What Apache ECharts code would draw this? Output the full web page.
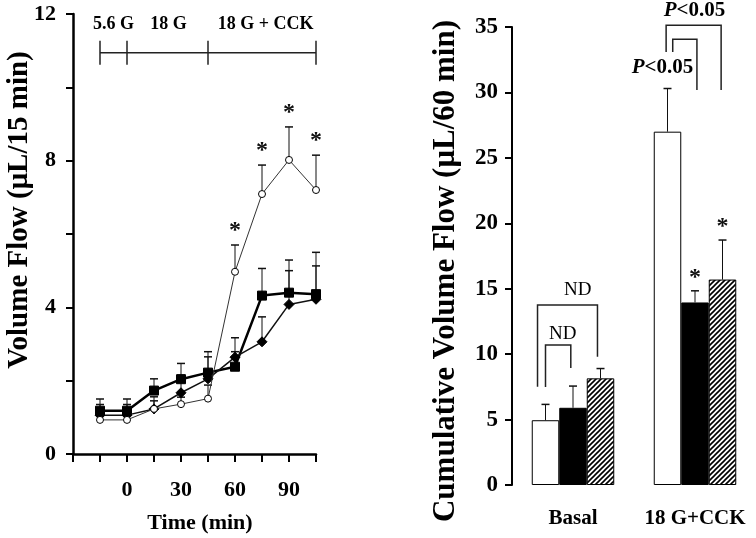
<!DOCTYPE html>
<html>
<head>
<meta charset="utf-8">
<script src="https://cdn.jsdelivr.net/npm/echarts@6/dist/echarts.min.js"></script>
<style>html,body{margin:0;padding:0;background:#fff}#c{width:756px;height:538px}</style>
</head>
<body>
<div id="c"></div>
<script>
// ---------- Left panel data ----------
const times = [-15, 0, 15, 30, 45, 60, 75, 90, 105];
const openMean = [0.93, 0.93, 1.23, 1.36, 1.51, 4.97, 7.09, 8.02, 7.2];
const openTop = [1.2, 1.2, 1.45, 1.55, 1.88, 5.7, 7.88, 8.92, 8.15];
const openStar = [0, 0, 0, 0, 0, 1, 1, 1, 1];
const squareMean = [1.18, 1.18, 1.73, 2.04, 2.22, 2.38, 4.32, 4.4, 4.36];
const squareTop = [1.5, 1.5, 2.05, 2.47, 2.79, 2.79, 5.06, 5.29, 5.5];
const diamondMean = [1.06, 1.06, 1.23, 1.67, 2.05, 2.64, 3.06, 4.08, 4.22];
const diamondTop = [1.35, 1.35, 1.56, 2.15, 2.65, 3.17, 3.74, 5.0, 5.13];
const leftXLabels = [0, 30, 60, 90];
const leftYLabels = [0, 4, 8, 12];
const phaseBounds = [-15, 0, 45, 105];
const phaseLabels = ['5.6 G', '18 G', '18 G + CCK'];
const phaseLabelX = [-7.5, 23, 77];
const phaseLineY = 10.94;
const phaseLabelY = 11.73;

// ---------- Right panel data ----------
const groups = ['Basal', '18 G+CCK'];
const whiteVals = [4.95, 27.0];
const blackVals = [5.9, 13.95];
const hatchVals = [8.15, 15.7];
const whiteTop = [6.16, 30.3];
const blackTop = [7.56, 14.84];
const hatchTop = [8.9, 18.72];
const whiteStar = [0, 0];
const blackStar = [0, 1];
const hatchStar = [0, 1];
// brackets: [category, leftBarPos, leftY, rightBarPos, rightY, topY]
const brackets = [
  [0, -0.29, 7.5, 1.89, 9.8, 13.75],
  [0, 0.0, 7.49, 0.92, 8.94, 10.7],
  [1, -0.05, 33.08, 1.95, 30.18, 35.14],
  [1, 0.19, 33.08, 1.07, 30.18, 34.07]
];
// bracket labels: [category, barPos, y]
const bracketLabelText = ['ND', 'ND', 'P<0.05', 'P<0.05'];
const bracketLabelPos = [
  [0, 1.17, 14.9],
  [0, 0.63, 11.54],
  [1, 0.98, 36.29],
  [1, -0.18, 31.93]
];

const FONT = '"Liberation Serif", "Times New Roman", serif';
const BAR_W = 27.5;

const chart = echarts.init(document.getElementById('c'));

function hatchPattern() {
  const s = 5;
  const cv = document.createElement('canvas');
  cv.width = s; cv.height = s;
  const ctx = cv.getContext('2d');
  ctx.fillStyle = '#fff';
  ctx.fillRect(0, 0, s, s);
  ctx.strokeStyle = '#000';
  ctx.lineWidth = 1.6;
  ctx.beginPath();
  ctx.moveTo(-1, s + 1); ctx.lineTo(s + 1, -1);
  ctx.moveTo(-1, 1); ctx.lineTo(1, -1);
  ctx.moveTo(s - 1, s + 1); ctx.lineTo(s + 1, s - 1);
  ctx.stroke();
  return {image: cv, repeat: 'repeat'};
}

function leftErr(meanArr, topArr, starArr) {
  return {
    type: 'custom', xAxisIndex: 0, yAxisIndex: 0, z: 1, silent: true,
    data: times.map((t, i) => [t, meanArr[i], topArr[i], starArr ? starArr[i] : 0]),
    renderItem: function (params, api) {
      const p0 = api.coord([api.value(0), api.value(1)]);
      const p1 = api.coord([api.value(0), api.value(2)]);
      const ch = [
        {type: 'line', shape: {x1: p0[0], y1: p0[1], x2: p1[0], y2: p1[1]}, style: {stroke: '#111', lineWidth: 1}},
        {type: 'line', shape: {x1: p1[0] - 4, y1: p1[1], x2: p1[0] + 4, y2: p1[1]}, style: {stroke: '#111', lineWidth: 1.5}}
      ];
      if (api.value(3)) {
        ch.push({type: 'text', x: p1[0], y: p1[1] - 14, style: {text: '*', font: 'bold 24px ' + FONT, fill: '#111', align: 'center', verticalAlign: 'middle'}});
      }
      return {type: 'group', children: ch};
    }
  };
}

function rightErr(barPos, topArr, starArr, vals) {
  return {
    type: 'custom', xAxisIndex: 1, yAxisIndex: 1, z: 3, silent: true,
    data: groups.map((g, i) => [i, vals[i], topArr[i], starArr[i]]),
    renderItem: function (params, api) {
      const c0 = api.coord([api.value(0), api.value(1)]);
      const c1 = api.coord([api.value(0), api.value(2)]);
      const x = c0[0] + (barPos - 1) * BAR_W;
      const ch = [
        {type: 'line', shape: {x1: x, y1: c0[1], x2: x, y2: c1[1]}, style: {stroke: '#111', lineWidth: 1}},
        {type: 'line', shape: {x1: x - 4, y1: c1[1], x2: x + 4, y2: c1[1]}, style: {stroke: '#111', lineWidth: 1.5}}
      ];
      if (api.value(3)) {
        ch.push({type: 'text', x: x, y: c1[1] - 13, style: {text: '*', font: 'bold 24px ' + FONT, fill: '#111', align: 'center', verticalAlign: 'middle'}});
      }
      return {type: 'group', children: ch};
    }
  };
}

const option = {
  animation: false,
  backgroundColor: '#fff',
  grid: [
    {left: 73, top: 14, width: 243, height: 440},
    {left: 512, top: 27, width: 250, height: 458}
  ],
  xAxis: [
    {
      type: 'value', gridIndex: 0, min: -30, max: 105, interval: 15,
      axisLine: {show: true, onZero: false, lineStyle: {color: '#000', width: 2.5}},
      axisTick: {show: true, length: 8, lineStyle: {color: '#000', width: 2}},
      splitLine: {show: false},
      axisLabel: {
        margin: 25, color: '#000', fontFamily: FONT, fontWeight: 'bold', fontSize: 22,
        formatter: v => leftXLabels.includes(v) ? String(v) : ''
      }
    },
    {
      type: 'category', gridIndex: 1, data: groups,
      axisLine: {show: false}, axisTick: {show: false},
      axisLabel: {interval: 0, hideOverlap: false, margin: 23, color: '#000', fontFamily: FONT, fontWeight: 'bold', fontSize: 21}
    }
  ],
  yAxis: [
    {
      type: 'value', gridIndex: 0, min: 0, max: 12, interval: 2,
      axisLine: {show: true, onZero: false, lineStyle: {color: '#000', width: 2.5}},
      axisTick: {show: true, length: 7, lineStyle: {color: '#000', width: 2}},
      splitLine: {show: false},
      axisLabel: {
        margin: 17, color: '#000', fontFamily: FONT, fontWeight: 'bold', fontSize: 22,
        formatter: v => leftYLabels.includes(v) ? String(v) : ''
      }
    },
    {
      type: 'value', gridIndex: 1, min: 0, max: 35, interval: 5,
      axisLine: {show: true, onZero: false, lineStyle: {color: '#000', width: 2}},
      axisTick: {show: true, length: 7, lineStyle: {color: '#000', width: 2}},
      splitLine: {show: false},
      axisLabel: {margin: 14, color: '#000', fontFamily: FONT, fontWeight: 'bold', fontSize: 23}
    }
  ],
  graphic: [
    {type: 'text', x: 20, y: 210, rotation: Math.PI / 2,
      style: {text: 'Volume Flow (μL/15 min)', font: 'bold 29px ' + FONT, fill: '#000', align: 'center', verticalAlign: 'middle'}},
    {type: 'text', x: 200, y: 523,
      style: {text: 'Time (min)', font: 'bold 22px ' + FONT, fill: '#000', align: 'center', verticalAlign: 'middle'}},
    {type: 'text', x: 446, y: 271, rotation: Math.PI / 2,
      style: {text: 'Cumulative Volume Flow (μL/60 min)', font: 'bold 31px ' + FONT, fill: '#000', align: 'center', verticalAlign: 'middle'}}
  ],
  series: [
    // phase annotation bar (left)
    {
      type: 'custom', xAxisIndex: 0, yAxisIndex: 0, silent: true, clip: false,
      data: [[0]],
      renderItem: function (params, api) {
        const ch = [];
        const a = api.coord([phaseBounds[0], phaseLineY]);
        const b = api.coord([phaseBounds[phaseBounds.length - 1], phaseLineY]);
        ch.push({type: 'line', shape: {x1: a[0], y1: a[1], x2: b[0], y2: b[1]}, style: {stroke: '#222', lineWidth: 1.5}});
        phaseBounds.forEach(v => {
          const p = api.coord([v, phaseLineY]);
          ch.push({type: 'line', shape: {x1: p[0], y1: p[1] - 12, x2: p[0], y2: p[1] + 12}, style: {stroke: '#222', lineWidth: 1.5}});
        });
        phaseLabels.forEach((t, i) => {
          const p = api.coord([phaseLabelX[i], phaseLabelY]);
          ch.push({type: 'text', x: p[0], y: p[1], style: {text: t, font: 'bold 18px ' + FONT, fill: '#000', align: 'center', verticalAlign: 'middle'}});
        });
        return {type: 'group', children: ch};
      }
    },
    leftErr(squareMean, squareTop, null),
    leftErr(diamondMean, diamondTop, null),
    leftErr(openMean, openTop, openStar),
    {
      type: 'line', xAxisIndex: 0, yAxisIndex: 0, z: 3,
      data: times.map((t, i) => [t, squareMean[i]]),
      symbol: 'rect', symbolSize: 9,
      lineStyle: {color: '#000', width: 2.5},
      itemStyle: {color: '#000', borderColor: '#000'}
    },
    {
      type: 'line', xAxisIndex: 0, yAxisIndex: 0, z: 4,
      data: times.map((t, i) => [t, diamondMean[i]]),
      symbol: 'diamond', symbolSize: 10,
      lineStyle: {color: '#111', width: 1.5},
      itemStyle: {color: '#000', borderColor: '#000'}
    },
    {
      type: 'line', xAxisIndex: 0, yAxisIndex: 0, z: 5,
      data: times.map((t, i) => [t, openMean[i]]),
      symbol: 'circle', symbolSize: 7,
      lineStyle: {color: '#333', width: 1},
      itemStyle: {color: '#fff', borderColor: '#000', borderWidth: 1}
    },
    // right bars
    {
      type: 'bar', xAxisIndex: 1, yAxisIndex: 1, data: whiteVals, barWidth: BAR_W, barGap: '0%',
      itemStyle: {color: '#fff', borderColor: '#000', borderWidth: 1}
    },
    {
      type: 'bar', xAxisIndex: 1, yAxisIndex: 1, data: blackVals, barWidth: BAR_W, barGap: '0%',
      itemStyle: {color: '#000', borderColor: '#000', borderWidth: 1}
    },
    {
      type: 'bar', xAxisIndex: 1, yAxisIndex: 1, data: hatchVals, barWidth: BAR_W, barGap: '0%',
      itemStyle: {color: hatchPattern(), borderColor: '#000', borderWidth: 1}
    },
    rightErr(0, whiteTop, whiteStar, whiteVals),
    rightErr(1, blackTop, blackStar, blackVals),
    rightErr(2, hatchTop, hatchStar, hatchVals),
    // brackets
    {
      type: 'custom', xAxisIndex: 1, yAxisIndex: 1, silent: true, clip: false, z: 4,
      data: brackets,
      renderItem: function (params, api) {
        const cat = api.value(0);
        const cen = api.coord([cat, 0])[0];
        const xl = cen + (api.value(1) - 1) * BAR_W;
        const xr = cen + (api.value(3) - 1) * BAR_W;
        const yl = api.coord([cat, api.value(2)])[1];
        const yr = api.coord([cat, api.value(4)])[1];
        const yt = api.coord([cat, api.value(5)])[1];
        return {type: 'polyline', shape: {points: [[xl, yl], [xl, yt], [xr, yt], [xr, yr]]},
          style: {stroke: '#222', lineWidth: 1.5, fill: null}};
      }
    },
    {
      type: 'custom', xAxisIndex: 1, yAxisIndex: 1, silent: true, clip: false, z: 4,
      data: bracketLabelPos,
      renderItem: function (params, api) {
        const cat = api.value(0);
        const cen = api.coord([cat, 0])[0];
        const x = cen + (api.value(1) - 1) * BAR_W;
        const y = api.coord([cat, api.value(2)])[1];
        const t = bracketLabelText[params.dataIndex];
        if (t.charAt(0) === 'P') {
          return {type: 'text', x: x, y: y, style: {
            text: '{i|P}{b|' + t.slice(1) + '}', align: 'center', verticalAlign: 'middle',
            rich: {
              i: {font: 'italic bold 21px ' + FONT, fill: '#000'},
              b: {font: 'bold 21px ' + FONT, fill: '#000'}
            }
          }};
        }
        return {type: 'text', x: x, y: y, style: {text: t, font: '19px ' + FONT, fill: '#000', align: 'center', verticalAlign: 'middle'}};
      }
    }
  ]
};
chart.setOption(option);
</script>
</body>
</html>
